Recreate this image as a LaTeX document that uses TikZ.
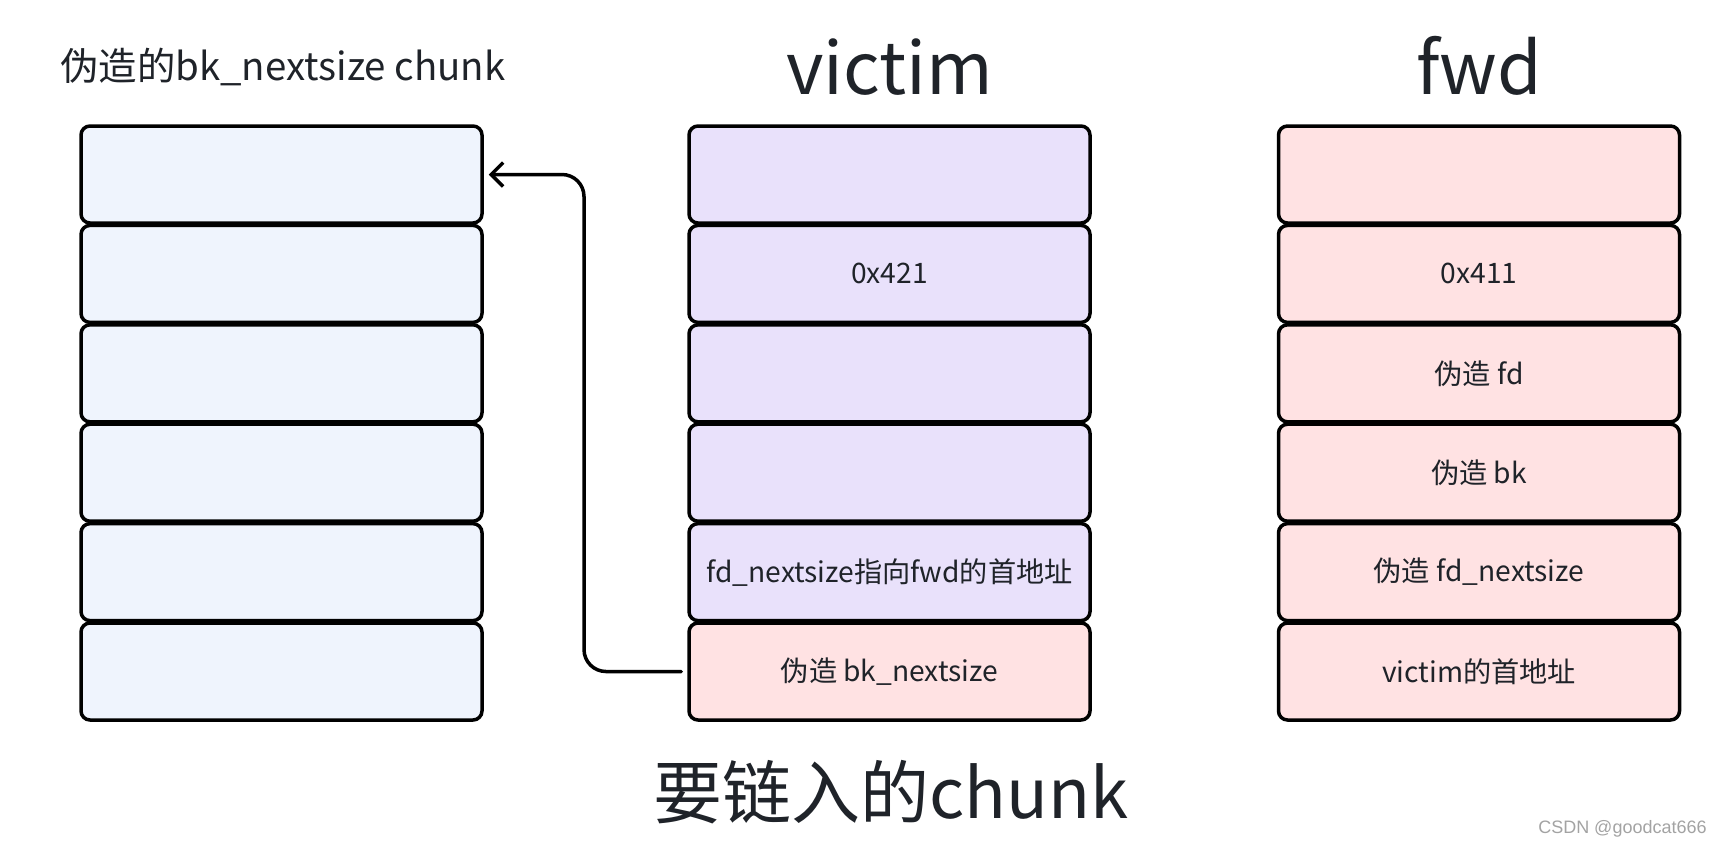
\documentclass[tikz,border=0pt]{standalone}
\usepackage{fontspec}
\setmainfont{Noto Sans CJK SC}
\newfontfamily\markfont{Liberation Sans}
\usetikzlibrary{arrows.meta}
\definecolor{TextDark}{HTML}{1F2329}
\definecolor{CBlue}{HTML}{EFF4FD}
\definecolor{CPurple}{HTML}{E9E1FB}
\definecolor{CPink}{HTML}{FFE2E3}
\definecolor{MarkGray}{HTML}{A3A3A3}

\begin{document}
\begin{tikzpicture}[x=0.5pt, y=-0.5pt, >={Straight Barb[length=6pt,width=12pt]},
	line cap=round, line join=round,
	cell/.style={draw=black, line width=1.75pt, rounded corners=4.5pt,
		minimum width=200.5pt, minimum height=48.5pt, inner sep=0pt,
		text=TextDark, font=\fontsize{14.1}{17}\selectfont},
	head/.style={text=TextDark, inner sep=0pt, anchor=base,
		font=\fontsize{36}{43}\selectfont}]
		
		\useasboundingbox (0,0) rectangle (1722,848);
		
		% -- Left: fake bk_nextsize chunk ----------------------------
		\node[head, anchor=base west, font=\fontsize{19.2}{23}\selectfont]
		(fakettl) at (60,80) {伪造的bk\_nextsize chunk};
		\foreach \r in {1,...,6}{%
			\node[cell, fill=CBlue] (l\r) at (281.5,{174.5+(\r-1)*99.4}) {};
		}
		
		% -- Centre: victim ------------------------------------------
		\node[head] (victimttl) at (889.5,94) {victim};
		\foreach \r/\txt/\col in {1//CPurple,2/0x421/CPurple,3//CPurple,4//CPurple,
			5/{fd\_nextsize指向fwd的首地址}/CPurple,6/{伪造 bk\_nextsize}/CPink}{%
			\node[cell, fill=\col] (v\r) at (889.5,{174.5+(\r-1)*99.4}) {\txt};
		}
		
		% -- Right: fwd ----------------------------------------------
		\node[head] (fwdttl) at (1479,94) {fwd};
		\foreach \r/\txt in {1/,2/0x411,3/{伪造 fd},4/{伪造 bk},
			5/{伪造 fd\_nextsize},6/{victim的首地址}}{%
			\node[cell, fill=CPink] (f\r) at (1479,{174.5+(\r-1)*99.4}) {\txt};
		}
		
		% bk_nextsize of victim points back to the fake chunk
		\coordinate (bend) at (584,400);
		\draw[->, line width=1.75pt, rounded corners=11pt, shorten <=3pt, shorten >=2.5pt]
		(v6.west) -- (v6.west -| bend) -- (bend |- l1.east) -- (l1.east);
		
		% -- Bottom caption ------------------------------------------
		\node[head, font=\fontsize{34.5}{41}\selectfont] (linkttl) at (891,818) {要链入的chunk};
		
		\node[anchor=base east, inner sep=0pt, text=MarkGray,
		font=\markfont\fontsize{9}{11}\selectfont] (mark) at (1707,833) {CSDN @goodcat666};
		
	\end{tikzpicture}
\end{document}
